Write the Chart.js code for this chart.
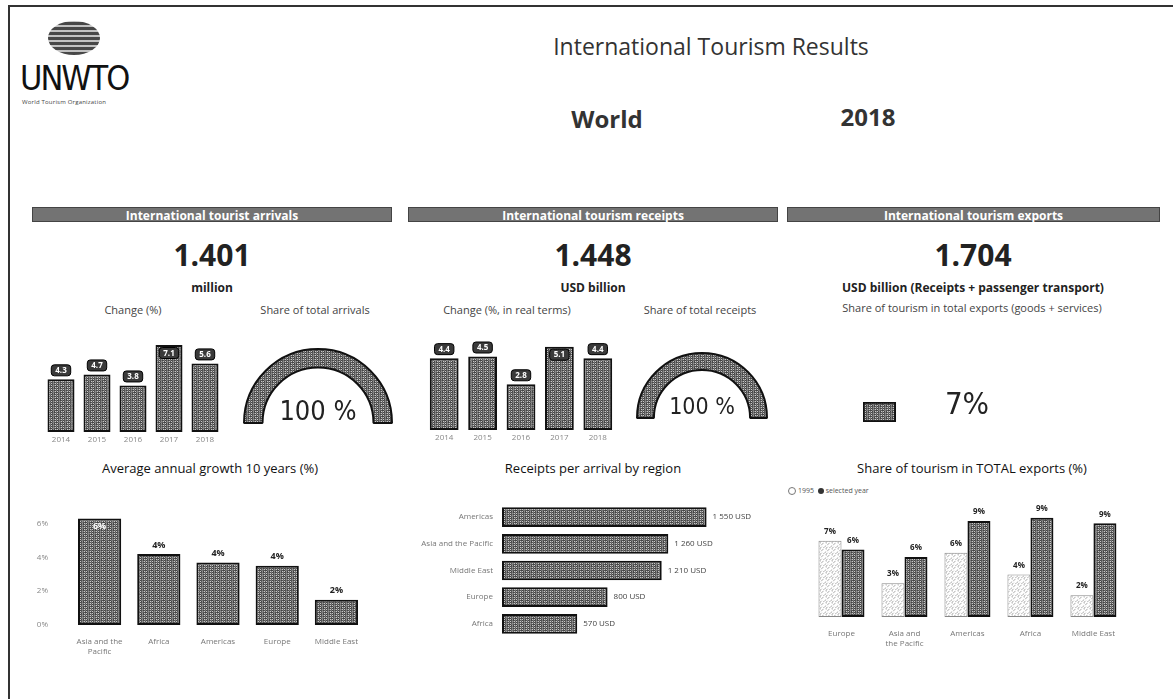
<!DOCTYPE html>
<html>
<head>
<meta charset="utf-8">
<script src="https://cdn.jsdelivr.net/npm/chart.js@4.4.0/dist/chart.umd.min.js"></script>
<style>
body{margin:0;width:1173px;height:699px;background:#fff;font-family:'Open Sans',sans-serif;color:#222;overflow:hidden;position:relative}
.frame{position:absolute;left:8px;top:5px;width:1170px;height:700px;border-left:2px solid #333;border-top:2px solid #333}
.t{position:absolute;white-space:nowrap;text-align:center;width:400px}
.hdr{position:absolute;top:207px;height:15px;background:#737373;color:#fff;font-weight:bold;font-size:12px;line-height:15px;text-align:center;border:1px solid #444;box-sizing:border-box}
.gauge-txt{position:absolute;width:120px;text-align:center;font-family:'Liberation Sans Narrow','DejaVu Sans Condensed',sans-serif;color:#222}
canvas{position:absolute}
.logo-globe{position:absolute;left:48px;top:21px;width:52px;height:34px;border-radius:50%;background:repeating-linear-gradient(0deg,#333 0 3px,#bbb 3px 5px);opacity:.9}
.logo{position:absolute;left:20px;top:58px;font-family:'Liberation Sans Narrow','DejaVu Sans Condensed',sans-serif;font-size:34px;letter-spacing:-2px;color:#111}
.logo-sub{position:absolute;left:22px;top:98px;font-size:6px;color:#444;letter-spacing:.2px}
.legend{position:absolute;left:788px;top:486px;font-size:7px;color:#555}
.dot{display:inline-block;width:6px;height:6px;border-radius:50%;vertical-align:middle;margin-right:2px}
</style>
</head>
<body>
<div class="frame"></div>

<div class="logo-globe"></div>
<div class="logo">UNWTO</div>
<div class="logo-sub">World Tourism Organization</div>

<div class="t" style="left:511px;top:30px;font-size:23px;color:#333">International Tourism Results</div>
<div class="t" style="left:407px;top:102px;font-size:24px;font-weight:bold;color:#333">World</div>
<div class="t" style="left:668px;top:100px;font-size:24px;font-weight:bold;color:#333">2018</div>

<div class="hdr" style="left:32px;width:360px">International tourist arrivals</div>
<div class="hdr" style="left:408px;width:370px">International tourism receipts</div>
<div class="hdr" style="left:787px;width:373px">International tourism exports</div>

<div class="t" style="left:12px;top:238px;font-size:30px;font-weight:bold;line-height:34px">1.401</div>
<div class="t" style="left:393px;top:238px;font-size:30px;font-weight:bold;line-height:34px">1.448</div>
<div class="t" style="left:773px;top:238px;font-size:30px;font-weight:bold;line-height:34px">1.704</div>

<div class="t" style="left:12px;top:279px;font-size:12px;font-weight:bold">million</div>
<div class="t" style="left:393px;top:279px;font-size:12px;font-weight:bold">USD billion</div>
<div class="t" style="left:773px;top:279px;font-size:12px;font-weight:bold">USD billion (Receipts + passenger transport)</div>

<div class="t" style="left:-67px;top:302px;font-size:11px;color:#444">Change (%)</div>
<div class="t" style="left:115px;top:302px;font-size:11px;color:#444">Share of total arrivals</div>
<div class="t" style="left:307px;top:302px;font-size:11px;color:#444">Change (%, in real terms)</div>
<div class="t" style="left:500px;top:302px;font-size:11px;color:#444">Share of total receipts</div>
<div class="t" style="left:772px;top:300px;font-size:11px;color:#444">Share of tourism in total exports (goods + services)</div>

<div class="t" style="left:10px;top:459px;font-size:13px;color:#111">Average annual growth 10 years (%)</div>
<div class="t" style="left:393px;top:459px;font-size:13px;color:#111">Receipts per arrival by region</div>
<div class="t" style="left:772px;top:459px;font-size:13px;color:#111">Share of tourism in TOTAL exports (%)</div>

<div class="legend"><span class="dot" style="border:1px solid #777;background:#fff"></span>1995 &nbsp;<span class="dot" style="background:#333"></span>selected year</div>

<canvas id="arrChange" width="180" height="115" style="left:43px;top:330px"></canvas>
<canvas id="arrShare" width="150" height="76" style="left:243px;top:348px"></canvas>
<div class="gauge-txt" style="left:258px;top:395px;font-size:27px">100 %</div>

<canvas id="recChange" width="192" height="115" style="left:425px;top:328px"></canvas>
<canvas id="recShare" width="134" height="67" style="left:635px;top:352px"></canvas>
<div class="gauge-txt" style="left:642px;top:393px;font-size:23px">100 %</div>

<canvas id="expShare" width="117" height="20" style="left:863px;top:402px"></canvas>
<div class="gauge-txt" style="left:907px;top:385px;font-size:31px">7%</div>

<canvas id="growth" width="334" height="168" style="left:36px;top:490px"></canvas>
<canvas id="perArrival" width="414" height="161" style="left:412px;top:490px"></canvas>
<canvas id="exportsRegion" width="317" height="149" style="left:810px;top:500px"></canvas>

<script>
// ---- data ----
var years = ['2014', '2015', '2016', '2017', '2018'];
var arrivalsChange = [4.3, 4.7, 3.8, 7.1, 5.6];
var receiptsChange = [4.4, 4.5, 2.8, 5.1, 4.4];
var arrivalsShare = [100];
var receiptsShare = [100];
var exportsShare = [7];

var growthRegions = [['Asia and the', 'Pacific'], 'Africa', 'Americas', 'Europe', 'Middle East'];
var growthValues = [6.3, 4.2, 3.7, 3.5, 1.5];
var growthTicks = [0, 2, 4, 6];

var arrivalRegions = ['Americas', 'Asia and the Pacific', 'Middle East', 'Europe', 'Africa'];
var receiptsPerArrival = [1550, 1260, 1210, 800, 570];

var exportRegions = ['Europe', ['Asia and', 'the Pacific'], 'Americas', 'Africa', 'Middle East'];
var share1995 = [7.0, 3.1, 5.9, 3.9, 2.0];
var shareSelected = [6.2, 5.5, 8.8, 9.1, 8.6];

// ---- textures (scanned look) ----
function makePattern(shades) {
    var c = document.createElement('canvas');
    c.width = 6; c.height = 6;
    var g = c.getContext('2d');
    for (var y = 0; y < 6; y++) {
        for (var x = 0; x < 6; x++) {
            g.fillStyle = shades[(x * 2 + y * 3 + (x * y) % 4) % shades.length];
            g.fillRect(x, y, 1, 1);
        }
    }
    return g.createPattern(c, 'repeat');
}
var darkFill = makePattern(['#565656', '#a4a4a4', '#767676', '#c8c8c8', '#444444', '#909090']);
var lightFill = makePattern(['#ffffff', '#dedede', '#f4f4f4', '#c9c9c9', '#ffffff']);

Chart.defaults.font.family = "'Open Sans', sans-serif";
Chart.defaults.animation = false;
Chart.defaults.plugins.legend.display = false;
Chart.defaults.plugins.tooltip.enabled = false;

// value labels drawn on top of the bars
var valueLabels = {
    id: 'valueLabels',
    afterDatasetsDraw: function (chart, args, opts) {
        var ctx = chart.ctx;
        ctx.save();
        chart.data.datasets.forEach(function (ds, i) {
            var meta = chart.getDatasetMeta(i);
            var max = Math.max.apply(null, ds.data);
            meta.data.forEach(function (bar, j) {
                var v = ds.data[j];
                var txt = opts.format(v);
                ctx.font = (opts.bold ? 'bold ' : '') + opts.size + "px 'Open Sans', sans-serif";
                ctx.textAlign = 'center';
                ctx.textBaseline = 'middle';
                if (opts.style === 'right') {
                    ctx.textAlign = 'left';
                    ctx.fillStyle = '#444';
                    ctx.fillText(txt, bar.x + 6, bar.y);
                    return;
                }
                var inside = opts.insideMax && v === max;
                var y = inside ? bar.y + 8 : bar.y - 9;
                if (opts.style === 'box') {
                    var w = ctx.measureText(txt).width + 8;
                    var h = 11;
                    ctx.beginPath();
                    ctx.roundRect(bar.x - w / 2, y - h / 2, w, h, 3);
                    ctx.fillStyle = '#3a3a3a';
                    ctx.fill();
                    ctx.lineWidth = 1;
                    ctx.strokeStyle = '#000';
                    ctx.stroke();
                    ctx.fillStyle = '#fff';
                    ctx.fillText(txt, bar.x, y + 0.5);
                } else {
                    ctx.fillStyle = inside ? '#fff' : '#222';
                    ctx.fillText(txt, bar.x, y);
                }
            });
        });
        ctx.restore();
    }
};

function smallBars(id, values, maxY) {
    return new Chart(document.getElementById(id), {
        type: 'bar',
        data: {
            labels: years,
            datasets: [{
                data: values,
                backgroundColor: darkFill,
                borderColor: '#111',
                borderWidth: 2,
                borderSkipped: false,
                barPercentage: 0.75,
                categoryPercentage: 1
            }]
        },
        options: {
            responsive: false,
            layout: {padding: {top: 4}},
            scales: {
                x: {
                    grid: {display: false, drawTicks: false},
                    border: {display: false},
                    ticks: {font: {size: 8}, color: '#888', padding: 3},
                    afterFit: function (s) { s.height = 13; }
                },
                y: {display: false, min: 0, max: maxY}
            },
            plugins: {valueLabels: {style: 'box', size: 8, bold: true, insideMax: true, format: function (v) { return v.toFixed(1); }}}
        },
        plugins: [valueLabels]
    });
}
smallBars('arrChange', arrivalsChange, 8);
smallBars('recChange', receiptsChange, 6);

function gauge(id, values, cut) {
    return new Chart(document.getElementById(id), {
        type: 'doughnut',
        data: {
            labels: ['share'],
            datasets: [{
                data: values,
                backgroundColor: darkFill,
                borderColor: '#111',
                borderWidth: 2
            }]
        },
        options: {
            responsive: false,
            rotation: -90,
            circumference: 180,
            cutout: cut
        }
    });
}
gauge('arrShare', arrivalsShare, '75%');
gauge('recShare', receiptsShare, '74%');

new Chart(document.getElementById('expShare'), {
    type: 'bar',
    data: {
        labels: ['exports'],
        datasets: [{
            data: exportsShare,
            backgroundColor: darkFill,
            borderColor: '#111',
            borderWidth: 2,
            borderSkipped: false,
            barPercentage: 1,
            categoryPercentage: 1
        }]
    },
    options: {
        responsive: false,
        indexAxis: 'y',
        scales: {
            x: {display: false, min: 0, max: 25},
            y: {display: false}
        }
    }
});

new Chart(document.getElementById('growth'), {
    type: 'bar',
    data: {
        labels: growthRegions,
        datasets: [{
            data: growthValues,
            backgroundColor: darkFill,
            borderColor: '#111',
            borderWidth: 2,
            borderSkipped: false,
            barPercentage: 0.73,
            categoryPercentage: 1
        }]
    },
    options: {
        responsive: false,
        layout: {padding: {top: 9}},
        scales: {
            x: {
                grid: {display: false, drawTicks: false},
                border: {display: false},
                ticks: {font: {size: 8}, color: '#777', padding: 12, maxRotation: 0},
                afterFit: function (s) { s.height = 33; }
            },
            y: {
                min: 0, max: 6.4,
                grid: {display: false, drawTicks: false},
                border: {display: false},
                afterBuildTicks: function (s) { s.ticks = growthTicks.map(function (v) { return {value: v}; }); },
                ticks: {font: {size: 8}, color: '#888', padding: 22, callback: function (v) { return v + '%'; }},
                afterFit: function (s) { s.width = 34; }
            }
        },
        plugins: {valueLabels: {style: 'text', size: 9, bold: true, insideMax: true, format: function (v) { return Math.round(v) + '%'; }}}
    },
    plugins: [valueLabels]
});

new Chart(document.getElementById('perArrival'), {
    type: 'bar',
    data: {
        labels: arrivalRegions,
        datasets: [{
            data: receiptsPerArrival,
            backgroundColor: darkFill,
            borderColor: '#111',
            borderWidth: 2,
            borderSkipped: false,
            barPercentage: 0.74,
            categoryPercentage: 1
        }]
    },
    options: {
        responsive: false,
        indexAxis: 'y',
        layout: {padding: {top: 5, right: 60}},
        scales: {
            x: {display: false, min: 0, max: 2000},
            y: {
                grid: {display: false, drawTicks: false},
                border: {display: false},
                ticks: {font: {size: 8}, color: '#777', padding: 9},
                afterFit: function (s) { s.width = 90; }
            }
        },
        plugins: {valueLabels: {style: 'right', size: 8, format: function (v) { return v.toLocaleString('en-US').replace(',', ' ') + ' USD'; }}}
    },
    plugins: [valueLabels]
});

new Chart(document.getElementById('exportsRegion'), {
    type: 'bar',
    data: {
        labels: exportRegions,
        datasets: [{
            label: '1995',
            data: share1995,
            backgroundColor: lightFill,
            borderColor: '#888',
            borderWidth: 1,
            borderDash: [2, 2],
            borderSkipped: false,
            barPercentage: 1,
            categoryPercentage: 0.73
        }, {
            label: 'selected year',
            data: shareSelected,
            backgroundColor: darkFill,
            borderColor: '#111',
            borderWidth: 2,
            borderSkipped: false,
            barPercentage: 1,
            categoryPercentage: 0.73
        }]
    },
    options: {
        responsive: false,
        layout: {padding: {top: 8}},
        scales: {
            x: {
                grid: {display: false, drawTicks: false},
                border: {display: false},
                ticks: {font: {size: 8}, color: '#777', padding: 12, maxRotation: 0},
                afterFit: function (s) { s.height = 32; }
            },
            y: {display: false, min: 0, max: 10}
        },
        plugins: {valueLabels: {style: 'text', size: 8, bold: true, insideMax: false, format: function (v) { return Math.round(v) + '%'; }}}
    },
    plugins: [valueLabels]
});
</script>
</body>
</html>
